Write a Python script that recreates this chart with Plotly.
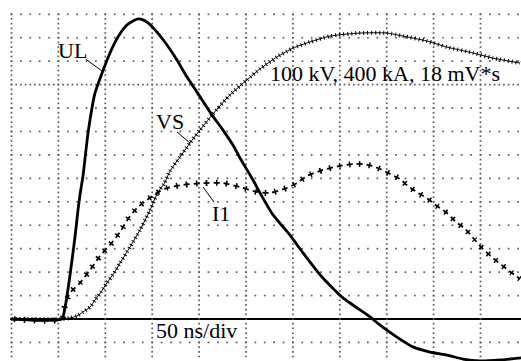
import numpy as np
import plotly.graph_objects as go

# time in ns (50 ns/div), amplitude in screen divisions
ul_t = [0, 53.8, 57.0, 62.4, 67.7, 70.9, 73.0, 76.2, 81.6, 89.0, 96.5, 105.0, 113.5, 123.1, 129.5,
        134.8, 140.2, 145.5, 155.1, 165.8, 176.4, 187.1, 197.8, 213.8, 225.5, 236.1, 243.6, 257.5,
        264.9, 278.8, 296.9, 310.8, 331.0, 353.4, 382.2, 392.9, 410.9, 428.0, 446.2, 464.3, 481.3,
        499.5, 520.8, 543.2]
ul_v = [0, 0, 0.47, 1.88, 3.50, 4.65, 5.29, 6.10, 7.94, 9.64, 10.49, 11.35, 12.03, 12.54, 12.71,
        12.80, 12.76, 12.63, 12.24, 11.69, 11.05, 10.32, 9.68, 8.70, 8.06, 7.42, 6.87, 5.93,
        5.38, 4.44, 3.58, 2.82, 1.79, 0.90, 0.09, -0.26, -0.77, -1.19, -1.41, -1.54, -1.71,
        -1.79, -1.75, -1.66]

vs_t = [0, 53.8, 62.4, 69.8, 76.2, 83.7, 89.0, 95.4, 101.8, 109.3, 115.7, 126.3, 137.0, 147.7,
        156.2, 162.6, 169.0, 179.6, 190.3, 200.9, 213.8, 232.9, 251.1, 264.9, 283.1, 300.2, 318.3,
        339.6, 371.5, 400.3, 417.4, 442.9, 464.3, 492.0, 513.3, 542.1]
vs_v = [0, 0, 0.04, 0.13, 0.30, 0.51, 0.81, 1.15, 1.54, 1.96, 2.39, 3.07, 3.80, 4.65,
        5.42, 5.76, 6.31, 6.91, 7.51, 8.06, 8.70, 9.56, 10.20, 10.67, 11.18, 11.56, 11.82,
        12.07, 12.20, 12.20, 12.07, 11.86, 11.60, 11.35, 11.13, 10.92]

i1_t = [0, 53.8, 57.0, 62.4, 73.0, 83.7, 94.3, 105.0, 115.7, 124.2, 133.8, 144.5, 155.1, 165.8,
        182.8, 204.2, 225.5, 243.6, 261.7, 275.6, 293.7, 304.4, 315.0, 332.1, 350.2, 364.1, 374.7,
        384.3, 392.9, 403.5, 414.2, 422.7, 433.4, 444.0, 453.6, 464.3, 472.8, 483.5, 494.1, 502.6,
        513.3, 524.0, 533.6, 542.1]
i1_v = [0, 0, 0.60, 1.11, 1.54, 2.09, 2.69, 3.16, 3.71, 4.27, 4.74, 5.08, 5.38, 5.59,
        5.72, 5.80, 5.80, 5.63, 5.42, 5.38, 5.59, 5.80, 6.10, 6.36, 6.53, 6.61, 6.61,
        6.53, 6.40, 6.19, 5.97, 5.67, 5.38, 5.12, 4.82, 4.52, 4.18, 3.84, 3.37, 2.99,
        2.60, 2.26, 1.96, 1.71]

labels = ["UL", "VS", "I1"]
label_t = [65.5, 169.0, 223.3]
label_v = [11.45, 8.42, 4.52]
leader_from = [(79.4, 11.08), (176.4, 7.98), (215.9, 4.99)]
leader_to = [(97.5, 10.55), (190.3, 7.51), (204.2, 5.63)]

note_text = "100 kV, 400 kA, 18 mV*s"
note_pos = (398.2, 10.47)
scale_text = "50 ns/div"
scale_pos = (196.7, -0.49)

# screen graticule
x_div = 50.0          # ns per division
x_lines = np.arange(0, 11) * x_div
y_lines = np.arange(-1, 14)
x_min, x_max = -1.6, 543.18
y_min, y_max = -1.792, 13.055

FONT = "Liberation Serif, Times New Roman, DejaVu Serif, serif"
FSIZE = 22
GRID = "#5a5a5a"
fig = go.Figure()

# graticule dots
gx, gy = [], []
for xl in x_lines:                       # vertical lines: 5 dots per vertical division
    ys = np.arange(13.0, y_min, -0.2)
    gx.extend([xl] * len(ys)); gy.extend(ys.tolist())
for yl in y_lines:                       # horizontal lines: 5 dots per horizontal division
    if yl == 0:
        continue
    step = 5.0 if yl == 10 else 10.0
    xs = np.arange(0, x_max, step)
    gx.extend(xs.tolist()); gy.extend([yl] * len(xs))
fig.add_trace(go.Scatter(x=gx, y=gy, mode="markers", hoverinfo="skip",
                         marker=dict(symbol="square", size=1.7, color=GRID, line=dict(width=0))))

# VS: thin line with small ticks
fig.add_trace(go.Scatter(x=vs_t, y=vs_v, mode="lines",
                         line=dict(color="black", width=1, shape="spline", smoothing=0.6)))
fig.add_trace(go.Scatter(x=vs_t, y=vs_v, mode="lines",
                         line=dict(color="black", width=4, shape="spline", smoothing=0.6,
                                   dash="1px,3px")))
# I1: crosses
fig.add_trace(go.Scatter(x=i1_t, y=i1_v, mode="lines",
                         line=dict(color="black", width=1.8, shape="spline", smoothing=0.6,
                                   dash="6px,4px")))
fig.add_trace(go.Scatter(x=i1_t, y=i1_v, mode="lines",
                         line=dict(color="black", width=6, shape="spline", smoothing=0.6,
                                   dash="0px,2.25px,1.5px,6.25px")))
# UL: thick line
fig.add_trace(go.Scatter(x=ul_t, y=ul_v, mode="lines",
                         line=dict(color="black", width=2.8, shape="spline", smoothing=0.5)))

annotations = []
for lab, tx, ty in zip(labels, label_t, label_v):
    annotations.append(dict(x=tx, y=ty, text=lab, showarrow=False,
                            font=dict(family=FONT, size=FSIZE, color="black"),
                            xanchor="center", yanchor="middle"))
annotations.append(dict(x=note_pos[0], y=note_pos[1], text=note_text, showarrow=False,
                        font=dict(family=FONT, size=FSIZE, color="black"),
                        xanchor="center", yanchor="middle"))
annotations.append(dict(x=scale_pos[0], y=scale_pos[1], text=scale_text, showarrow=False,
                        font=dict(family=FONT, size=FSIZE, color="black"),
                        xanchor="center", yanchor="middle"))

shapes = []
for (x0, y0), (x1, y1) in zip(leader_from, leader_to):
    shapes.append(dict(type="line", x0=x0, y0=y0, x1=x1, y1=y1,
                       line=dict(color="black", width=1)))

fig.update_layout(
    width=521, height=361,
    margin=dict(l=10, r=0, t=13, b=0),
    paper_bgcolor="white", plot_bgcolor="white",
    showlegend=False,
    annotations=annotations, shapes=shapes,
    xaxis=dict(range=[x_min, x_max], showgrid=False,
               showticklabels=False, ticks="", zeroline=False, showline=False),
    yaxis=dict(range=[y_min, y_max], tick0=0, dtick=1, showgrid=False,
               showticklabels=False, ticks="", zeroline=True,
               zerolinecolor="black", zerolinewidth=1.5, showline=False),
)

fig.write_html("out.html")
